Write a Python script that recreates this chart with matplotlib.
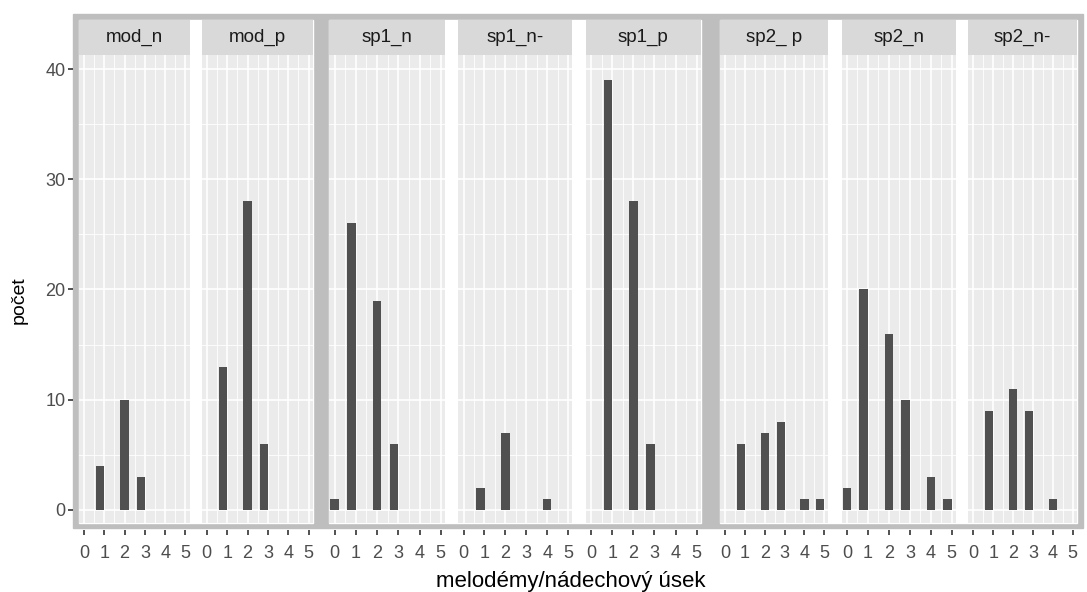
import matplotlib
matplotlib.use("Agg")
import matplotlib.pyplot as plt
from matplotlib.patches import Rectangle
import numpy as np

plt.rcParams['font.family'] = ['Liberation Sans', 'DejaVu Sans']

panels = ['mod_n', 'mod_p', 'sp1_n', 'sp1_n-', 'sp1_p', 'sp2_ p', 'sp2_n', 'sp2_n-']
# bar positions (shared for all panels) and counts per panel
positions = [0, 0.8, 2.0, 2.8, 4.0, 4.8]
mod_n = [0, 4, 10, 3, 0, 0]
mod_p = [0, 13, 28, 6, 0, 0]
sp1_n = [1, 26, 19, 6, 0, 0]
sp1_n_minus = [0, 2, 7, 0, 1, 0]
sp1_p = [0, 39, 28, 6, 0, 0]
sp2_p = [0, 6, 7, 8, 1, 1]
sp2_n = [2, 20, 16, 10, 3, 1]
sp2_n_minus = [0, 9, 11, 9, 1, 0]
counts = [mod_n, mod_p, sp1_n, sp1_n_minus, sp1_p, sp2_p, sp2_n, sp2_n_minus]
xticks = [0, 1, 2, 3, 4, 5]
yticks = [0, 10, 20, 30, 40]

W, H = 1087, 592
fig = plt.figure(figsize=(W / 100, H / 100), dpi=100)

def fx(px):
    return px / W

def fy(py):
    return 1 - py / H

# pixel extents of the panels
panel_x = [(79, 189.5), (201.7, 312.7), (329.3, 445), (458.3, 572.3),
           (585.7, 701), (720, 828.3), (841.7, 956), (968.3, 1076.7)]
strip_top, strip_bot, panel_bot = 20, 55, 523
groups = [(79, 312.7), (329.3, 701), (720, 1076.7)]

# grey frame and white group backgrounds (behind the axes)
fig.patches.append(Rectangle((fx(73.3), fy(527.7)), fx(1082.7) - fx(73.3), fy(14) - fy(527.7),
                             transform=fig.transFigure, color='#BEBEBE', zorder=-2))
for g0, g1 in groups:
    fig.patches.append(Rectangle((fx(g0), fy(panel_bot)), fx(g1) - fx(g0), fy(strip_top) - fy(panel_bot),
                                 transform=fig.transFigure, color='white', zorder=-1))

for i, (name, vals) in enumerate(zip(panels, counts)):
    x0, x1 = panel_x[i]
    ax = fig.add_axes([fx(x0), fy(panel_bot), fx(x1) - fx(x0), fy(strip_bot) - fy(panel_bot)])
    ax.set_facecolor('#EBEBEB')
    ax.set_xlim(-0.25, 5.2)
    ax.set_ylim(-1.18, 41.27)
    for v in np.arange(0, 5.01, 0.5):
        ax.axvline(v, color='white', lw=1.2 if v % 1 == 0 else 0.6, zorder=0.5)
    for v in range(0, 41, 5):
        ax.axhline(v, color='white', lw=1.2 if v % 10 == 0 else 0.6, zorder=0.5)
    ax.bar(positions, vals, width=0.41, color='#505050', zorder=2)
    for s in ax.spines.values():
        s.set_visible(False)
    ax.spines['bottom'].set_position(('outward', 5))
    ax.set_xticks(xticks)
    ax.tick_params(axis='x', length=3.5, width=1.2, color='#333333', labelcolor='#4D4D4D',
                   labelsize=13, pad=7)
    ax.set_yticks(yticks)
    if i == 0:
        ax.spines['left'].set_position(('outward', 4.3))
        ax.tick_params(axis='y', length=3.5, width=1.2, color='#333333', labelcolor='#4D4D4D',
                       labelsize=13, pad=2)
    else:
        ax.tick_params(axis='y', length=0, labelleft=False)
    # strip
    sax = fig.add_axes([fx(x0), fy(strip_bot), fx(x1) - fx(x0), fy(strip_top) - fy(strip_bot)])
    sax.set_facecolor('#D9D9D9')
    sax.set_xticks([])
    sax.set_yticks([])
    for s in sax.spines.values():
        s.set_visible(False)
    sax.text(0.5, 0.5, name, ha='center', va='center', fontsize=13.5, color='#1A1A1A',
             transform=sax.transAxes)

fig.text(fx(19), fy(300), 'počet', rotation=90, ha='center', va='center', fontsize=14, color='black')
fig.text(fx(571), fy(581), 'melodémy/nádechový úsek', ha='center', va='center', fontsize=16, color='black')

fig.savefig('out.png', dpi=100)
